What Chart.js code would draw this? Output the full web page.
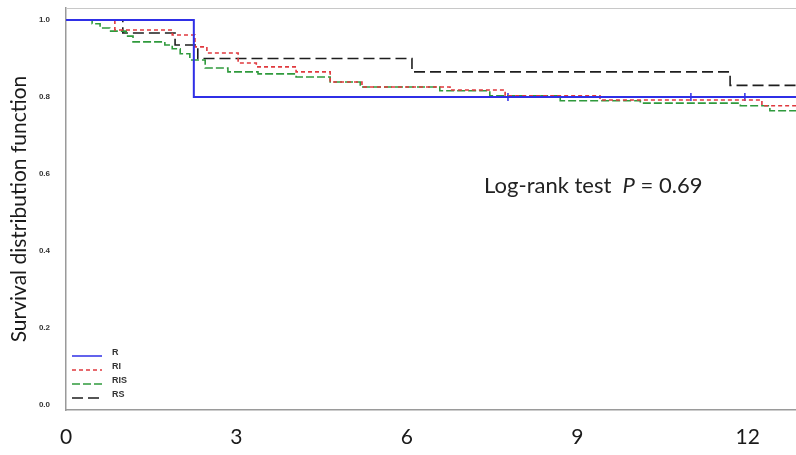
<!DOCTYPE html>
<html>
<head>
<meta charset="utf-8">
<script src="https://cdn.jsdelivr.net/npm/chart.js@4.4.1/dist/chart.umd.min.js"></script>
<style>
  html, body { margin: 0; padding: 0; background: #fff; }
</style>
</head>
<body>
<canvas id="km" width="796" height="455"></canvas>
<script>
// --- Data (time in months, survival proportion) ---
const xTicks = [0, 3, 6, 9, 12];
const yTicks = [0, 0.2, 0.4, 0.6, 0.8, 1.0];

const rTime = [0, 2.25, 12.85];
const rSurv = [1.0, 0.80, 0.80];
const rCensorTime = [7.78, 11.0, 11.95];
const rCensorSurv = [0.80, 0.80, 0.80];

const riTime = [0, 0.86, 1.87, 2.27, 2.48, 3.03, 3.35, 4.05, 4.65, 5.21, 6.76, 7.73, 9.40, 12.25, 12.85];
const riSurv = [1.0, 0.974, 0.961, 0.930, 0.914, 0.888, 0.878, 0.865, 0.839, 0.826, 0.818, 0.803, 0.792, 0.777, 0.777];

const risTime = [0, 0.46, 0.60, 0.77, 1.06, 1.18, 1.74, 1.87, 2.01, 2.18, 2.45, 2.85, 3.38, 4.05, 4.65, 5.18, 6.58, 7.46, 8.70, 10.11, 11.87, 12.39, 12.85];
const risSurv = [1.0, 0.990, 0.979, 0.971, 0.958, 0.943, 0.935, 0.925, 0.912, 0.896, 0.875, 0.865, 0.860, 0.852, 0.839, 0.826, 0.816, 0.803, 0.790, 0.784, 0.777, 0.764, 0.764];

const rsTime = [0, 1.00, 1.92, 2.32, 6.09, 11.69, 12.85];
const rsSurv = [1.0, 0.966, 0.935, 0.900, 0.865, 0.83, 0.83];

const annotation = { x: 7.36, y: 0.569, pre: 'Log-rank test  ', p: 'P', post: ' = 0.69' };

function pts(xs, ys) {
  return xs.map((x, i) => ({ x: x, y: ys[i] }));
}

// frame top line, legend in lower-left corner, log-rank text
const extras = {
  id: 'extras',
  afterDraw(chart) {
    const ctx = chart.ctx;
    const a = chart.chartArea;
    ctx.save();
    ctx.strokeStyle = '#c8c8c8';
    ctx.lineWidth = 1;
    ctx.beginPath();
    ctx.moveTo(a.left, a.top + 0.5);
    ctx.lineTo(a.right, a.top + 0.5);
    ctx.stroke();

    // legend
    const rows = chart.data.datasets.filter(d => d.inLegend);
    rows.forEach((d, i) => {
      const y = a.bottom - 54 + i * 14;
      ctx.strokeStyle = d.borderColor;
      ctx.lineWidth = 1.5;
      ctx.setLineDash(d.borderDash || []);
      ctx.beginPath();
      ctx.moveTo(a.left + 6, y);
      ctx.lineTo(a.left + 36, y);
      ctx.stroke();
      ctx.setLineDash([]);
      ctx.fillStyle = '#333';
      ctx.font = 'bold 9px "Liberation Sans"';
      ctx.textBaseline = 'middle';
      ctx.fillText(d.label, a.left + 46, y - 3);
    });

    // log-rank text
    const xs = chart.scales.x, ys = chart.scales.y;
    let px = xs.getPixelForValue(annotation.x);
    const py = ys.getPixelForValue(annotation.y);
    ctx.fillStyle = '#222';
    ctx.textBaseline = 'middle';
    ctx.font = '22px Lato';
    ctx.fillText(annotation.pre, px, py);
    px += ctx.measureText(annotation.pre).width;
    ctx.font = 'italic 22px Lato';
    ctx.fillText(annotation.p, px, py);
    px += ctx.measureText(annotation.p).width;
    ctx.font = '22px Lato';
    ctx.fillText(annotation.post, px, py);
    ctx.restore();
  }
};

const line = (label, xs, ys, color, dash, width) => ({
  label: label,
  data: pts(xs, ys),
  borderColor: color,
  borderWidth: width,
  borderDash: dash,
  stepped: true,
  pointRadius: 0,
  fill: false,
  inLegend: true
});

new Chart(document.getElementById('km'), {
  type: 'line',
  data: {
    datasets: [
      line('R', rTime, rSurv, '#2f2fe6', [], 2),
      line('RI', riTime, riSurv, '#e0393e', [4, 3], 1.6),
      line('RIS', risTime, risSurv, '#2f9a3c', [8, 3], 1.6),
      line('RS', rsTime, rsSurv, '#1e1e1e', [11, 5], 1.6),
      {
        label: 'R censored',
        type: 'scatter',
        data: pts(rCensorTime, rCensorSurv),
        pointStyle: 'line',
        rotation: 90,
        pointRadius: 4,
        borderColor: '#2f2fe6',
        borderWidth: 1.5,
        inLegend: false
      }
    ]
  },
  options: {
    responsive: false,
    animation: false,
    layout: { autoPadding: false, padding: { top: 8, right: 0, left: 0, bottom: 0 } },
    plugins: { legend: { display: false }, tooltip: { enabled: false } },
    scales: {
      x: {
        type: 'linear',
        min: 0,
        max: 12.85,
        grid: { display: false, drawTicks: false },
        border: { color: '#9a9a9a', width: 1.5 },
        afterBuildTicks: s => { s.ticks = xTicks.map(v => ({ value: v })); },
        afterFit: s => { s.height = 45; s.paddingLeft = 0; s.paddingRight = 0; },
        ticks: {
          padding: 15,
          color: '#1a1a1a',
          font: { family: 'Lato', size: 21 },
          callback: v => String(v)
        }
      },
      y: {
        min: -0.013,
        max: 1.031,
        grid: { display: false, drawTicks: false },
        border: { color: '#9a9a9a', width: 1.5 },
        afterBuildTicks: s => { s.ticks = yTicks.map(v => ({ value: v })); },
        afterFit: s => { s.width = 66; s.paddingTop = 0; s.paddingBottom = 0; },
        ticks: {
          padding: 16,
          color: '#333',
          font: { family: 'Liberation Sans', size: 8, weight: 'bold' },
          callback: v => v.toFixed(1)
        },
        title: {
          display: true,
          text: 'Survival distribution function',
          color: '#1a1a1a',
          font: { family: 'Lato', size: 21 },
          padding: { top: 7, bottom: 0 }
        }
      }
    }
  },
  plugins: [extras]
});
</script>
</body>
</html>
